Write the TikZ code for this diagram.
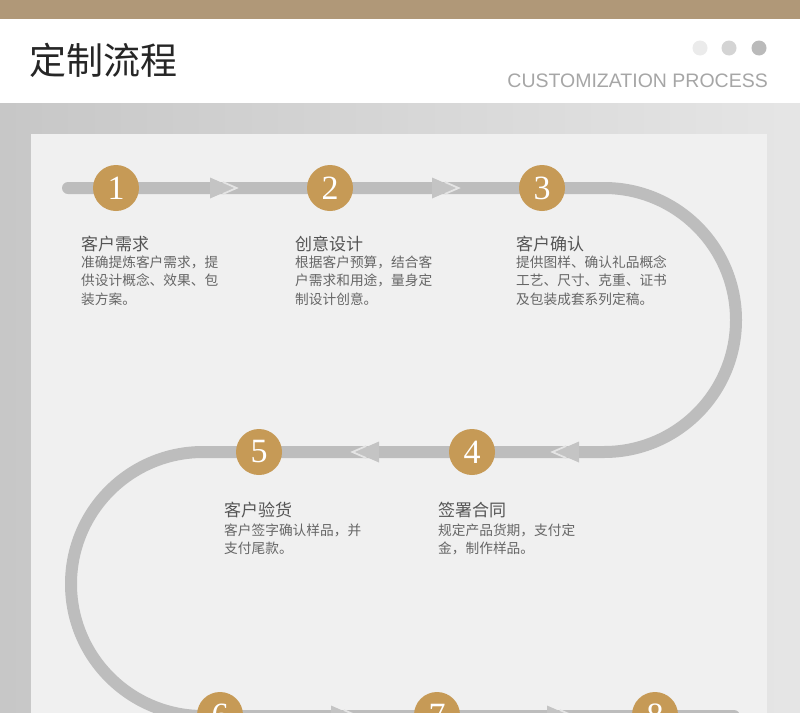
\documentclass[tikz,border=0pt]{standalone}
\usepackage{fontspec}
\setmainfont{Liberation Serif}
\newfontfamily\cjk{Noto Sans CJK SC}
\newfontfamily\lsans{Liberation Sans}
\definecolor{bandbrown}{HTML}{B09878}
\definecolor{gold}{HTML}{C69A56}
\definecolor{pathgrey}{HTML}{BDBDBD}
\definecolor{arrowfill}{HTML}{C4C4C4}
\definecolor{gapcol}{HTML}{E4E4E4}
\definecolor{panel}{HTML}{F0F0F0}
\definecolor{ttlgrey}{HTML}{555555}
\definecolor{descgrey}{HTML}{666666}
\tikzset{
  stepcirc/.style={circle, fill=gold, minimum size=46pt, inner sep=0pt, text=white,
    font=\fontsize{34}{34}\selectfont},
  steptitle/.style={anchor=base west, inner sep=0pt, text=ttlgrey,
    font=\cjk\fontsize{17}{17}\selectfont},
  stepdesc/.style={anchor=base west, inner sep=0pt, text=descgrey,
    font=\cjk\fontsize{13.7}{13.7}\selectfont},
  flowpath/.style={draw=pathgrey, line width=12pt},
  dotc/.style={circle, minimum size=15pt, inner sep=0pt},
  chev/.pic={
    \fill[arrowfill] (0,-10.5) -- (24,0) -- (0,10.5) -- cycle;
    \draw[gapcol, line width=1.8pt] (12.8,-6) -- (26.5,0) -- (12.8,6);
  }
}
\begin{document}
\begin{tikzpicture}[x=1pt, y=-1pt]
\useasboundingbox (0,0) rectangle (800,712);
\clip (0,0) rectangle (800,712);
% header
\fill[white] (0,0) rectangle (800,103);
\fill[bandbrown] (0,0) rectangle (800,19);
\node[anchor=base west, inner sep=0pt, text=black!85, font=\cjk\fontsize{37}{37}\selectfont] (title) at (29,74) {定制流程};
\node[dotc, fill=black!8] (d1) at (700,48) {};
\node[dotc, fill=black!17] (d2) at (729,48) {};
\node[dotc, fill=black!27] (d3) at (759,48) {};
\node[anchor=base east, inner sep=0pt, text=black!35, font=\lsans\fontsize{19.5}{19.5}\selectfont] (sub) at (768,87) {CUSTOMIZATION PROCESS};
% textured background
\shade[left color=black!22, right color=black!10] (0,103) rectangle (800,712);
\fill[panel] (31,134) rectangle (767,720);
% path
\coordinate (p0) at (68,188);
\coordinate (p1) at (604,188);
\coordinate (p2) at (604,452);
\coordinate (p3) at (203,452);
\coordinate (p4) at (203,716);
\coordinate (p5) at (734,716);
\draw[flowpath, line cap=round] (p0) -- (p1) arc[start angle=-90, end angle=90, radius=132] -- (p3) arc[start angle=-90, end angle=-270, radius=132] -- (p5);
% arrows
\pic at (210,188) {chev};
\pic at (432,188) {chev};
\pic[rotate=180] at (579,452) {chev};
\pic[rotate=180] at (379,452) {chev};
\pic at (331,716) {chev};
\pic at (547,716) {chev};
% step circles
\node[stepcirc] (s1) at (116,188) {1};
\node[stepcirc] (s2) at (330,188) {2};
\node[stepcirc] (s3) at (542,188) {3};
\node[stepcirc] (s4) at (472,452) {4};
\node[stepcirc] (s5) at (259,452) {5};
\node[stepcirc] (s6) at (220,715) {6};
\node[stepcirc] (s7) at (437,715) {7};
\node[stepcirc] (s8) at (655,715) {8};
% texts step 1
\node[steptitle] (t1) at (81,250) {客户需求};
\node[stepdesc] (t1a) at (81,267) {准确提炼客户需求，提};
\node[stepdesc] (t1b) at (81,285.5) {供设计概念、效果、包};
\node[stepdesc] (t1c) at (81,304) {装方案。};
% step 2
\node[steptitle] (t2) at (295,250) {创意设计};
\node[stepdesc] (t2a) at (295,267) {根据客户预算，结合客};
\node[stepdesc] (t2b) at (295,285.5) {户需求和用途，量身定};
\node[stepdesc] (t2c) at (295,304) {制设计创意。};
% step 3
\node[steptitle] (t3) at (516,250) {客户确认};
\node[stepdesc] (t3a) at (516,267) {提供图样、确认礼品概念};
\node[stepdesc] (t3b) at (516,285.5) {工艺、尺寸、克重、证书};
\node[stepdesc] (t3c) at (516,304) {及包装成套系列定稿。};
% step 5
\node[steptitle] (t5) at (224,516) {客户验货};
\node[stepdesc] (t5a) at (224,535) {客户签字确认样品，并};
\node[stepdesc] (t5b) at (224,553) {支付尾款。};
% step 4
\node[steptitle] (t4) at (438,516) {签署合同};
\node[stepdesc] (t4a) at (438,535) {规定产品货期，支付定};
\node[stepdesc] (t4b) at (438,553) {金，制作样品。};
\end{tikzpicture}
\end{document}
